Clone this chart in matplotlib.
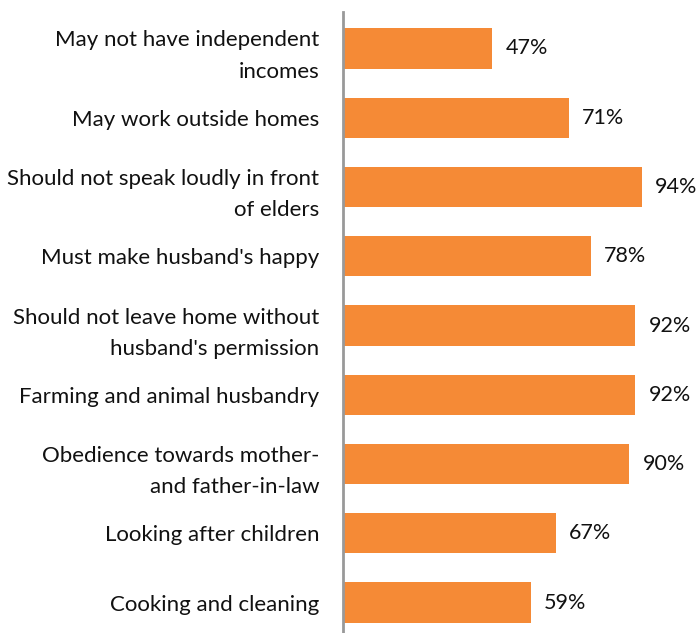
import matplotlib.pyplot as plt

categories = [
    "May not have independent\nincomes",
    "May work outside homes",
    "Should not speak loudly in front\nof elders",
    "Must make husband's happy",
    "Should not leave home without\nhusband's permission",
    "Farming and animal husbandry",
    "Obedience towards mother-\nand father-in-law",
    "Looking after children",
    "Cooking and cleaning",
]
values = [47, 71, 94, 78, 92, 92, 90, 67, 59]

plt.rcParams['font.family'] = ['Lato', 'DejaVu Sans']

fig = plt.figure(figsize=(6.99, 6.33), dpi=100)
ax = fig.add_axes([343 / 699, 0, 1 - 343 / 699, 621 / 633])

pos = list(range(len(values)))
ax.barh(pos, values, height=0.58, color='#F58A36')
ax.set_ylim(8.44, -0.527)
ax.set_xlim(0, 112)

for p, v in zip(pos, values):
    ax.text(v + 4.2, p, f"{v}%", va='center', ha='left', fontsize=15.5, color='#111111')

ax.set_yticks(pos)
ax.set_yticklabels(categories, fontsize=16, color='#111111', linespacing=1.7)
ax.tick_params(axis='y', length=0, pad=17)
ax.set_xticks([])
for s in ['top', 'right', 'bottom']:
    ax.spines[s].set_visible(False)
ax.spines['left'].set_color('#999999')
ax.spines['left'].set_linewidth(2)

fig.savefig("out.png", dpi=100)
plt.close(fig)
